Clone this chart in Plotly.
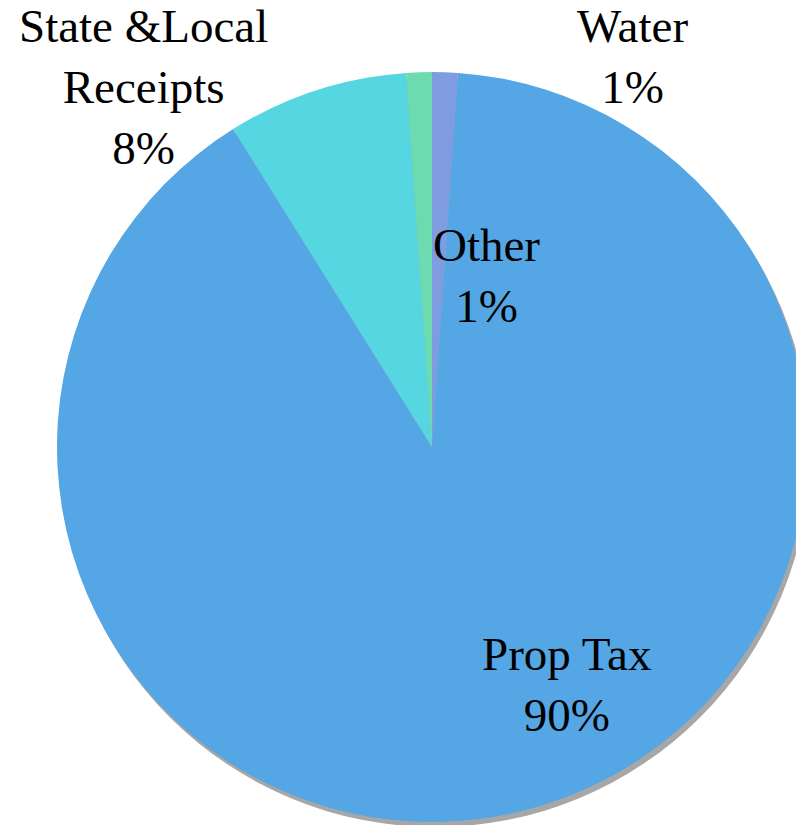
import plotly.graph_objects as go

labels = ["Water", "Prop Tax", "State &Local<br>Receipts", "Other"]
values = [1.1, 90.0, 7.8, 1.1]
colors = ["#7f9ce0", "#55a6e4", "#55d6e0", "#6cdcb0"]

W, H = 810, 830
cx, cy, r = 432, 447, 375

# label block anchors: (center x px, top y px)
label_px = [(632, -2), (566, 626), (143, -2), (487, 217)]

fig = go.Figure()
total = sum(values)

def dom(x0, y0):
    return dict(x=[(x0 - r) / W, (x0 + r) / W], y=[(H - y0 - r) / H, (H - y0 + r) / H])

# soft drop shadow behind the pie
fig.add_trace(go.Pie(
    labels=["shadow"], values=[total], sort=False,
    marker=dict(colors=["rgba(60,60,60,0.45)"], line=dict(width=0)),
    textinfo="none", hoverinfo="skip", showlegend=False,
    domain=dom(cx + 3, cy + 5),
))

fig.add_trace(go.Pie(
    labels=labels, values=values, sort=False, direction="clockwise", rotation=0,
    marker=dict(colors=colors, line=dict(width=0)),
    textinfo="none", hoverinfo="skip", showlegend=False,
    domain=dom(cx, cy),
))

for lab, v, (px, py) in zip(labels, values, label_px):
    fig.add_annotation(
        x=px / W, y=1 - py / H, xref="paper", yref="paper", xanchor="center", yanchor="top",
        text=f"{lab}<br>{round(100 * v / total)}%", showarrow=False,
        font=dict(family="Liberation Serif", size=47, color="#000000"), align="center",
    )

fig.update_layout(width=W, height=H, margin=dict(l=0, r=0, t=0, b=0),
                  paper_bgcolor="white", plot_bgcolor="white")
fig.write_html("out.html",
               post_script="document.body.style.overflow='hidden';document.documentElement.style.overflow='hidden';document.body.style.margin='0';")
